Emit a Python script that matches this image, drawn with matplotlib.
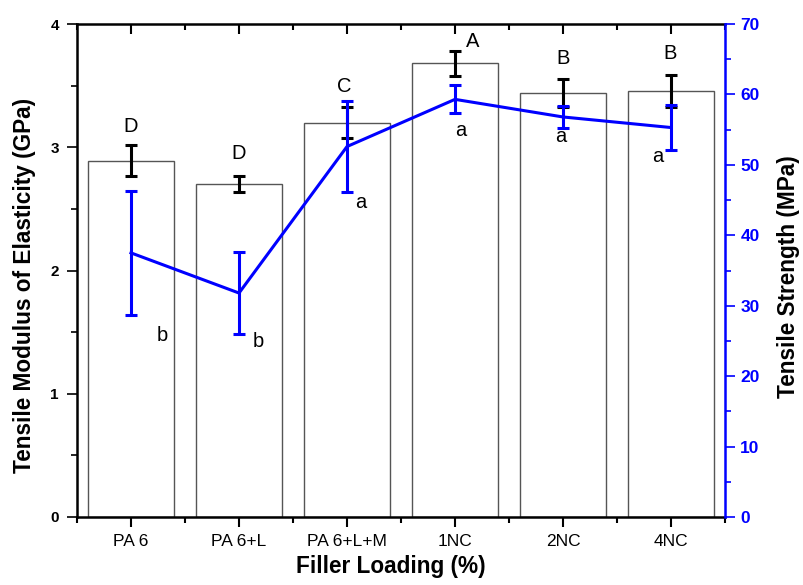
import matplotlib
matplotlib.use("Agg")
import matplotlib.pyplot as plt
from matplotlib.ticker import MultipleLocator, FixedLocator
import numpy as np

plt.rcParams['font.family'] = ['Liberation Sans', 'DejaVu Sans']

categories = ["PA 6", "PA 6+L", "PA 6+L+M", "1NC", "2NC", "4NC"]
modulus = [2.89, 2.70, 3.20, 3.68, 3.44, 3.46]
modulus_err = [0.125, 0.065, 0.125, 0.10, 0.11, 0.13]
strength = [37.5, 31.8, 52.6, 59.3, 56.8, 55.3]
strength_err = [8.8, 5.8, 6.5, 2.0, 1.5, 3.2]
upper_letters = ["D", "D", "C", "A", "B", "B"]
lower_letters = ["b", "b", "a", "a", "a", "a"]

PX = 0.72  # points per pixel at dpi 100
upper_off = [(0, 19), (0, 23), (-3, 21), (18, 10), (0, 21), (-1, 21)]
lower_off = [(31, -21), (19, -8), (14, -10), (6, -17), (-2, -9), (-13, -6)]

fig = plt.figure(figsize=(8.04, 5.85), dpi=100)
ax = fig.add_axes([77/804, 1-517/585, (725-77)/804, (517-24)/585])
x = np.arange(len(categories))

ax.bar(x, modulus, width=0.8, facecolor='white', edgecolor='#555555', linewidth=1.0, zorder=1)
ax.errorbar(x, modulus, yerr=modulus_err, fmt='none', ecolor='black',
            elinewidth=2.2, capsize=4.5, capthick=2.2, zorder=3)
ax.set_xlim(-0.5, 5.5)
ax.set_ylim(0, 4)
ax.set_xticks(x)
ax.set_xticklabels(categories, fontsize=12.5)
ax.xaxis.set_minor_locator(FixedLocator(np.arange(-0.5, 6, 1)))
ax.yaxis.set_major_locator(MultipleLocator(1))
ax.yaxis.set_minor_locator(MultipleLocator(0.5))
ax.tick_params(axis='y', which='major', direction='out', length=7, width=1.2, labelsize=11, pad=6)
ax.tick_params(axis='y', which='minor', direction='out', length=4, width=1.2)
ax.tick_params(axis='x', which='major', direction='out', length=7, width=1.5, top=True, pad=5)
ax.tick_params(axis='x', which='minor', direction='out', length=4, width=1.5, top=True)
for t in ax.get_yticklabels():
    t.set_fontweight('bold')

# top ticks inward
for tick in ax.xaxis.get_major_ticks() + ax.xaxis.get_minor_ticks():
    tick.tick2line.set_marker(3)  # TICKDOWN
for s in ['left', 'bottom', 'top']:
    ax.spines[s].set_linewidth(1.8)
ax.spines['right'].set_visible(False)

ax.set_xlabel("Filler Loading (%)", fontsize=16.3, fontweight='bold')
ax.xaxis.set_label_coords((391-77)/648, (517-555)/493)
ax.set_ylabel("Tensile Modulus of Elasticity (GPa)", fontsize=16.3, fontweight='bold')
ax.yaxis.set_label_coords((36-77)/648, (517-285)/493)

for i, lab in enumerate(upper_letters):
    dx, dy = upper_off[i]
    ax.annotate(lab, xy=(x[i], modulus[i] + modulus_err[i]), xytext=(dx*PX, dy*PX),
                textcoords='offset points', ha='center', va='center', fontsize=14.5, zorder=5)

ax2 = ax.twinx()
ax2.set_ylim(0, 70)
ax2.plot(x, strength, color='#0000ff', linewidth=2.2, zorder=4)
ax2.errorbar(x, strength, yerr=strength_err, fmt='none', ecolor='#0000ff',
             elinewidth=2.2, capsize=4.5, capthick=2.2, zorder=4)
ax2.yaxis.set_major_locator(MultipleLocator(10))
ax2.yaxis.set_minor_locator(MultipleLocator(5))
ax2.tick_params(axis='y', which='major', direction='out', length=7, width=1.2, colors='#0000ff', labelsize=12.5, pad=4)
ax2.tick_params(axis='y', which='minor', direction='out', length=4, width=1.2, colors='#0000ff')
for t in ax2.get_yticklabels():
    t.set_fontweight('bold')
for s in ['left', 'bottom', 'top']:
    ax2.spines[s].set_visible(False)
ax2.spines['right'].set_color('#0000ff')
ax2.spines['right'].set_linewidth(1.8)
ax2.set_ylabel("Tensile Strength (MPa)", fontsize=16.3, fontweight='bold')
ax2.yaxis.set_label_coords((777-77)/648, (517-277)/493)

for i, lab in enumerate(lower_letters):
    dx, dy = lower_off[i]
    ax2.annotate(lab, xy=(x[i], strength[i] - strength_err[i]), xytext=(dx*PX, dy*PX),
                 textcoords='offset points', ha='center', va='center', fontsize=14.5, zorder=5)

fig.savefig("out.png", dpi=100)
